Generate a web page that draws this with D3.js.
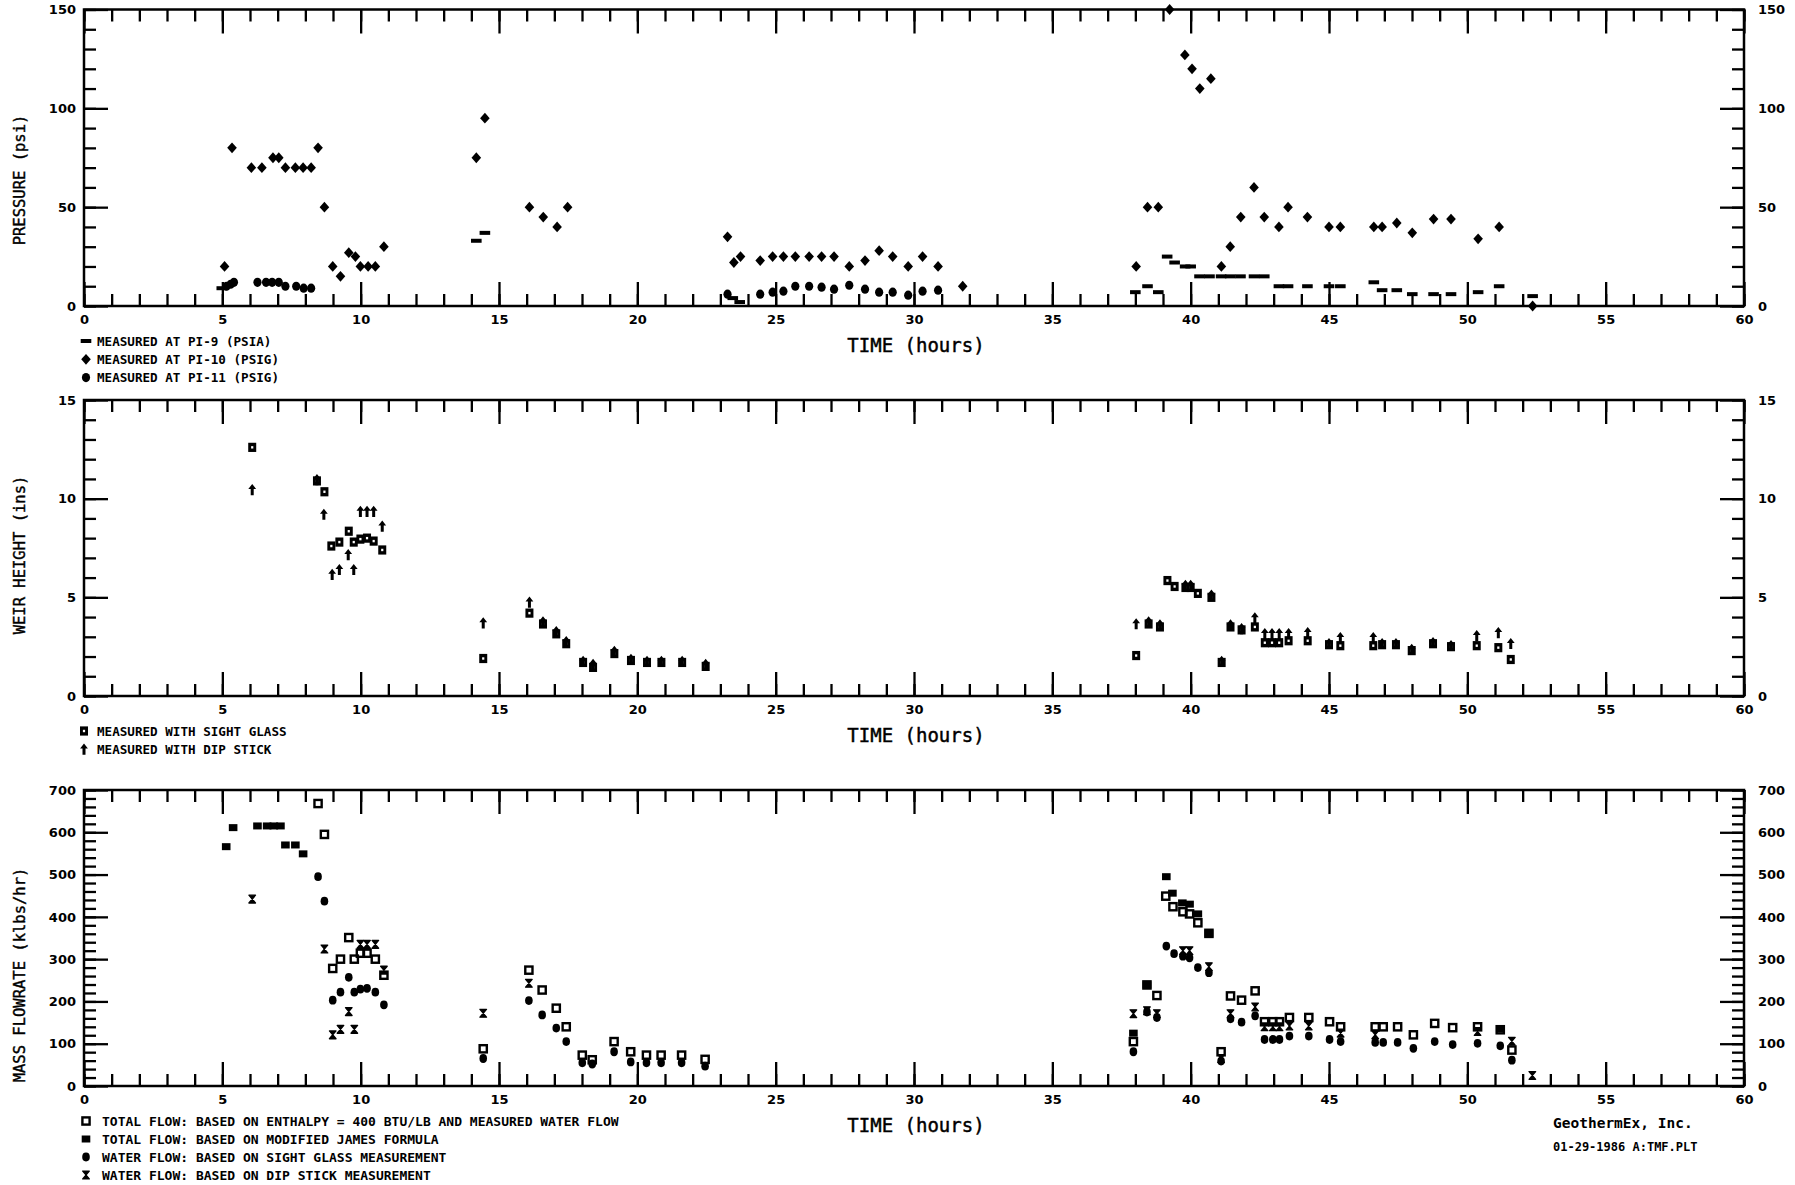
<!DOCTYPE html>
<html>
<head>
<meta charset="utf-8">
<script src="https://cdn.jsdelivr.net/npm/d3@7"></script>
<style>
  html, body { margin: 0; padding: 0; background: #fff; }
  svg { display: block; }
  .tick line { stroke: #000; stroke-width: 2.3; }
  .tick text { font-family: "DejaVu Sans", sans-serif; font-weight: bold; font-size: 13px; fill: #000; }
  .axis-title { font-family: "DejaVu Sans Mono", monospace; font-size: 19px; fill: #000; stroke: #000; stroke-width: 0.45px; }
  .y-title { font-family: "DejaVu Sans Mono", monospace; font-size: 15.5px; fill: #000; stroke: #000; stroke-width: 0.4px; }
  .legend { font-family: "DejaVu Sans Mono", monospace; font-weight: bold; font-size: 12.6px; fill: #000; }
  .legend.wide { font-size: 13px; }
  .credit { font-family: "DejaVu Sans Mono", monospace; font-weight: bold; fill: #000; }
</style>
</head>
<body>
<svg id="chart" width="1795" height="1185"></svg>
<script>
// ---- tick labels ----
const timeTicks = [0, 5, 10, 15, 20, 25, 30, 35, 40, 45, 50, 55, 60];
const pressureTicks = [0, 50, 100, 150];
const weirTicks = [0, 5, 10, 15];
const flowTicks = [0, 100, 200, 300, 400, 500, 600, 700];

// ---- pressure (psi) ----
const pi9Hours = [4.98, 14.18, 14.49, 23.45, 23.7, 38.0, 38.44, 38.83, 39.15, 39.42, 39.8, 40.0, 40.32, 40.68, 41.1, 41.43, 41.8, 42.29, 42.66, 43.19, 43.52, 44.22, 45.0, 45.41, 46.62, 46.92, 47.45, 48.01, 48.78, 49.41, 50.39, 51.15, 52.36];
const pi9Psi   = [9, 33, 37, 4, 2, 7, 10, 7, 25, 22, 20, 20, 15, 15, 15, 15, 15, 15, 15, 10, 10, 10, 10, 10, 12, 8, 8, 6, 6, 6, 7, 10, 5];

const pi10Hours = [5.08, 5.35, 6.05, 6.43, 6.83, 7.04, 7.28, 7.64, 7.92, 8.21, 8.46, 8.69, 8.99, 9.27, 9.57, 9.81, 9.99, 10.27, 10.53, 10.84, 14.18, 14.49, 16.1, 16.6, 17.1, 17.48, 23.26, 23.49, 23.73, 24.44, 24.89, 25.28, 25.71, 26.21, 26.66, 27.11, 27.66, 28.23, 28.74, 29.23, 29.79, 30.31, 30.87, 31.76, 38.03, 38.44, 38.83, 39.24, 39.79, 40.05, 40.33, 40.73, 41.11, 41.43, 41.81, 42.29, 42.66, 43.19, 43.52, 44.22, 45.0, 45.41, 46.62, 46.92, 47.45, 48.01, 48.78, 49.41, 50.39, 51.15, 52.36];
const pi10Psi   = [20, 80, 70, 70, 75, 75, 70, 70, 70, 70, 80, 50, 20, 15, 27, 25, 20, 20, 20, 30, 75, 95, 50, 45, 40, 50, 35, 22, 25, 23, 25, 25, 25, 25, 25, 25, 20, 23, 28, 25, 20, 25, 20, 10, 20, 50, 50, 150, 127, 120, 110, 115, 20, 30, 45, 60, 45, 40, 50, 45, 40, 40, 40, 40, 42, 37, 44, 44, 34, 40, 0];

const pi11Hours = [5.15, 5.3, 5.42, 6.27, 6.58, 6.8, 7.04, 7.28, 7.67, 7.94, 8.21, 23.26, 24.44, 24.89, 25.28, 25.71, 26.21, 26.66, 27.11, 27.66, 28.23, 28.74, 29.23, 29.79, 30.31, 30.87];
const pi11Psi   = [10, 11, 12, 12, 12, 12, 12, 10, 10, 9, 9, 6, 6, 7, 7.5, 10, 10, 9.5, 8.5, 10.5, 8.5, 7, 7, 5.5, 7.5, 8];

// ---- weir height (ins) ----
const glassHours = [6.08, 8.42, 8.69, 8.94, 9.23, 9.57, 9.75, 9.99, 10.23, 10.47, 10.78, 14.43, 16.1, 16.59, 17.07, 17.43, 18.04, 18.4, 19.17, 19.77, 20.35, 20.87, 21.62, 22.47, 38.03, 38.48, 38.89, 39.16, 39.42, 39.81, 40.0, 40.26, 40.75, 41.12, 41.44, 41.84, 42.32, 42.68, 42.94, 43.2, 43.54, 44.23, 45.0, 45.41, 46.6, 46.92, 47.42, 47.99, 48.76, 49.41, 50.34, 51.12, 51.57];
const glassIns   = [12.6, 10.9, 10.35, 7.6, 7.8, 8.35, 7.8, 7.95, 8.0, 7.85, 7.4, 1.9, 4.2, 3.65, 3.15, 2.65, 1.7, 1.45, 2.15, 1.8, 1.7, 1.7, 1.7, 1.5, 2.05, 3.65, 3.5, 5.85, 5.55, 5.5, 5.5, 5.2, 5.0, 1.7, 3.5, 3.35, 3.5, 2.7, 2.7, 2.7, 2.8, 2.8, 2.6, 2.55, 2.55, 2.6, 2.6, 2.3, 2.65, 2.5, 2.55, 2.45, 1.85];

const dipHours = [6.08, 8.42, 8.67, 8.97, 9.23, 9.55, 9.75, 9.99, 10.23, 10.47, 10.78, 14.43, 16.1, 16.59, 17.07, 17.43, 18.04, 18.4, 19.17, 19.77, 20.35, 20.87, 21.62, 22.47, 38.03, 38.48, 38.89, 39.81, 40.0, 40.75, 41.12, 41.44, 41.84, 42.32, 42.68, 42.94, 43.2, 43.54, 44.23, 45.0, 45.41, 46.6, 46.92, 47.42, 47.99, 48.76, 49.41, 50.34, 51.12, 51.57];
const dipIns   = [10.45, 10.95, 9.2, 6.15, 6.4, 7.15, 6.4, 9.35, 9.35, 9.35, 8.6, 3.7, 4.75, 3.75, 3.25, 2.75, 1.75, 1.6, 2.25, 1.85, 1.75, 1.75, 1.75, 1.6, 3.65, 3.75, 3.6, 5.6, 5.6, 5.1, 1.75, 3.6, 3.4, 3.95, 3.15, 3.15, 3.15, 3.15, 3.2, 2.65, 2.95, 2.95, 2.65, 2.65, 2.35, 2.7, 2.55, 3.05, 3.2, 2.65];

// ---- mass flowrate (klbs/hr) ----
const enthalpyHours = [8.46, 8.69, 8.99, 9.27, 9.57, 9.77, 9.99, 10.23, 10.53, 10.84, 14.43, 16.08, 16.56, 17.07, 17.43, 18.01, 18.37, 19.16, 19.76, 20.33, 20.86, 21.6, 22.45, 37.93, 38.42, 38.78, 39.1, 39.36, 39.72, 39.96, 40.26, 40.66, 41.1, 41.44, 41.84, 42.33, 42.67, 42.97, 43.21, 43.57, 44.27, 45.02, 45.42, 46.67, 46.96, 47.48, 48.05, 48.82, 49.47, 50.37, 51.19, 51.61];
const enthalpyFlow  = [668, 595, 278, 300, 351, 300, 314, 314, 300, 262, 88, 274, 227, 184, 140, 73, 62, 105, 81, 73, 73, 73, 63, 105, 239, 214, 449, 424, 412, 407, 386, 361, 81, 213, 203, 225, 152, 152, 152, 162, 162, 152, 140, 140, 140, 140, 121, 148, 138, 140, 133, 85];

const jamesHours = [5.14, 5.39, 6.27, 6.62, 6.86, 7.1, 7.28, 7.64, 7.92, 37.93, 38.42, 39.12, 39.34, 39.7, 39.96, 40.26, 40.66, 51.19];
const jamesFlow  = [566, 611, 615, 615, 615, 615, 570, 570, 549, 125, 239, 495, 456, 433, 430, 407, 361, 135];

const sightFlowHours = [8.46, 8.69, 8.99, 9.27, 9.57, 9.77, 9.99, 10.23, 10.53, 10.84, 14.43, 16.08, 16.56, 17.07, 17.43, 18.01, 18.37, 19.16, 19.76, 20.33, 20.86, 21.6, 22.45, 37.93, 38.42, 38.78, 39.12, 39.4, 39.72, 39.96, 40.26, 40.66, 41.1, 41.44, 41.84, 42.33, 42.67, 42.97, 43.21, 43.57, 44.27, 45.02, 45.42, 46.67, 46.96, 47.48, 48.05, 48.82, 49.47, 50.37, 51.19, 51.61];
const sightFlow      = [495, 437, 203, 222, 257, 222, 229, 231, 222, 192, 65, 202, 168, 137, 105, 55, 52, 81, 57, 55, 55, 55, 47, 81, 175, 162, 331, 313, 307, 303, 280, 268, 59, 159, 151, 166, 110, 110, 110, 118, 118, 110, 105, 103, 103, 103, 89, 105, 98, 101, 95, 61];

const dipFlowHours = [6.08, 8.69, 8.99, 9.27, 9.57, 9.77, 9.99, 10.23, 10.53, 10.84, 14.43, 16.08, 37.93, 38.42, 38.78, 39.72, 39.96, 40.66, 41.1, 41.44, 42.33, 42.67, 42.97, 43.21, 43.57, 44.27, 45.42, 46.67, 50.37, 51.61, 52.35];
const dipFlow      = [442, 324, 121, 134, 176, 134, 335, 335, 335, 274, 172, 243, 171, 178, 171, 320, 320, 282, 65, 171, 187, 140, 140, 140, 142, 142, 125, 121, 129, 106, 25];

// ---- legend texts ----
const pressureLegend = ["MEASURED AT PI-9  (PSIA)", "MEASURED AT PI-10  (PSIG)", "MEASURED AT PI-11  (PSIG)"];
const weirLegend = ["MEASURED WITH SIGHT GLASS", "MEASURED WITH DIP STICK"];
const flowLegend = [
  "TOTAL FLOW:  BASED ON ENTHALPY = 400 BTU/LB AND MEASURED WATER FLOW",
  "TOTAL FLOW:  BASED ON MODIFIED JAMES FORMULA",
  "WATER FLOW:  BASED ON SIGHT GLASS MEASUREMENT",
  "WATER FLOW:  BASED ON DIP STICK MEASUREMENT"
];

// ---- layout ----
const svg = d3.select("#chart");
const X0 = 84, X1 = 1744;
const MINOR = 12, MAJOR = 24;
const x = d3.scaleLinear().domain([0, 60]).range([X0, X1]);

const panels = {
  pressure: { top: 9.5, bottom: 306, domain: [0, 150], minor: 10, labels: pressureTicks, title: "PRESSURE (psi)", titleY: 180 },
  weir:     { top: 400, bottom: 696, domain: [0, 15],  minor: 1,  labels: weirTicks,     title: "WEIR HEIGHT (ins)", titleY: 555 },
  flow:     { top: 790, bottom: 1086, domain: [0, 700], minor: 20, labels: flowTicks,    title: "MASS FLOWRATE (klbs/hr)", titleY: 975 }
};
for (const p of Object.values(panels)) {
  p.y = d3.scaleLinear().domain(p.domain).range([p.bottom, p.top]);
}

// marker shapes, drawn centred on (0,0)
const symbols = {
  dash: g => g.append("rect").attr("x", -5.3).attr("y", -2).attr("width", 10.6).attr("height", 4),
  diamond: g => g.append("path").attr("d", "M0,-5.4L4.8,0L0,5.4L-4.8,0Z"),
  blob: g => g.append("ellipse").attr("rx", 4.1).attr("ry", 4.6),
  glass: g => {
    g.append("rect").attr("x", -4).attr("y", -4.6).attr("width", 8).attr("height", 9.2);
    g.append("rect").attr("x", -1.1).attr("y", -1.2).attr("width", 2.2).attr("height", 2.4).attr("fill", "#fff");
  },
  dagger: g => g.append("path").attr("d", "M-1.5,5.4L-1.5,-0.8L-3.9,-0.8L0,-5.8L3.9,-0.8L1.5,-0.8L1.5,5.4Z"),
  open: g => g.append("rect").attr("x", -3.6).attr("y", -3.6).attr("width", 7.2).attr("height", 7.2)
    .attr("fill", "none").attr("stroke", "#000").attr("stroke-width", 2.4),
  james: g => g.append("rect").attr("x", -4.3).attr("y", -3.5).attr("width", 8.6).attr("height", 7),
  water: g => g.append("ellipse").attr("rx", 3.8).attr("ry", 4.4),
  hourglass: g => g.append("path").attr("d", "M-3.3,-3.9H3.3L-3.3,3.9H3.3Z")
    .attr("stroke", "#000").attr("stroke-width", 1.3).attr("stroke-linejoin", "round")
};

function drawSeries(p, hours, values, type) {
  svg.append("g").attr("fill", "#000")
    .selectAll("g")
    .data(d3.zip(hours, values))
    .join("g")
    .attr("transform", d => `translate(${x(d[0])},${p.y(d[1])})`)
    .each(function () { symbols[type](d3.select(this)); });
}

function drawFrame(p) {
  const g = svg.append("g");
  const minorX = d3.range(0, 61, 1);
  const minorY = d3.range(p.domain[0], p.domain[1] + 1e-9, p.minor);

  const add = (transform, axis) => {
    const a = g.append("g").attr("transform", transform).call(axis);
    a.select(".domain").remove();
    return a;
  };
  // bottom
  add(`translate(0,${p.bottom})`, d3.axisBottom(x).tickValues(minorX).tickSizeInner(-MINOR).tickSizeOuter(0).tickFormat(""));
  add(`translate(0,${p.bottom})`, d3.axisBottom(x).tickValues(timeTicks).tickSizeInner(-MAJOR).tickSizeOuter(0).tickPadding(9).tickFormat(d3.format("d")));
  // top
  add(`translate(0,${p.top})`, d3.axisTop(x).tickValues(minorX).tickSizeInner(-MINOR).tickSizeOuter(0).tickFormat(""));
  add(`translate(0,${p.top})`, d3.axisTop(x).tickValues(timeTicks).tickSizeInner(-MAJOR).tickSizeOuter(0).tickFormat(""));
  // left
  add(`translate(${X0},0)`, d3.axisLeft(p.y).tickValues(minorY).tickSizeInner(-MINOR).tickSizeOuter(0).tickFormat(""));
  add(`translate(${X0},0)`, d3.axisLeft(p.y).tickValues(p.labels).tickSizeInner(-MAJOR).tickSizeOuter(0).tickPadding(8).tickFormat(d3.format("d")));
  // right
  add(`translate(${X1},0)`, d3.axisRight(p.y).tickValues(minorY).tickSizeInner(-MINOR).tickSizeOuter(0).tickFormat(""));
  add(`translate(${X1},0)`, d3.axisRight(p.y).tickValues(p.labels).tickSizeInner(-MAJOR).tickSizeOuter(0).tickPadding(14).tickFormat(d3.format("d")));

  g.append("rect")
    .attr("x", X0).attr("y", p.top)
    .attr("width", X1 - X0).attr("height", p.bottom - p.top)
    .attr("fill", "none").attr("stroke", "#000").attr("stroke-width", 2.5);

  g.append("text").attr("class", "axis-title")
    .attr("x", 916).attr("y", p.bottom + 39).attr("dy", "0.35em")
    .attr("text-anchor", "middle").text("TIME (hours)");

  g.append("text").attr("class", "y-title")
    .attr("transform", `translate(20,${p.titleY}) rotate(-90)`)
    .attr("dy", "0.35em").attr("text-anchor", "middle").text(p.title);
}

function drawLegend(items, types, startY, step, markX, textX, cls) {
  const g = svg.append("g");
  items.forEach((label, i) => {
    const yy = startY + i * step;
    const m = g.append("g").attr("fill", "#000").attr("transform", `translate(${markX},${yy})`);
    symbols[types[i]](m);
    g.append("text").attr("class", cls).attr("x", textX).attr("y", yy).attr("dy", "0.36em").text(label);
  });
}

// ---- pressure panel ----
const P = panels.pressure;
drawFrame(P);
drawSeries(P, pi9Hours, pi9Psi, "dash");
drawSeries(P, pi11Hours, pi11Psi, "blob");
drawSeries(P, pi10Hours, pi10Psi, "diamond");
drawLegend(pressureLegend, ["dash", "diamond", "blob"], 341, 18.3, 86, 97, "legend");

// ---- weir height panel ----
const W = panels.weir;
drawFrame(W);
drawSeries(W, glassHours, glassIns, "glass");
drawSeries(W, dipHours, dipIns, "dagger");
drawLegend(weirLegend, ["glass", "dagger"], 731, 18.3, 84, 97, "legend");

// ---- mass flowrate panel ----
const F = panels.flow;
drawFrame(F);
drawSeries(F, enthalpyHours, enthalpyFlow, "open");
drawSeries(F, jamesHours, jamesFlow, "james");
drawSeries(F, sightFlowHours, sightFlow, "water");
drawSeries(F, dipFlowHours, dipFlow, "hourglass");
drawLegend(flowLegend, ["open", "james", "water", "hourglass"], 1121, 18, 86, 102, "legend wide");

// ---- credit block ----
svg.append("text").attr("class", "credit").attr("font-size", 14.5)
  .attr("x", 1553).attr("y", 1123).attr("dy", "0.36em").text("GeothermEx, Inc.");
svg.append("text").attr("class", "credit").attr("font-size", 12)
  .attr("x", 1553).attr("y", 1147).attr("dy", "0.36em").text("01-29-1986 A:TMF.PLT");
</script>
</body>
</html>
